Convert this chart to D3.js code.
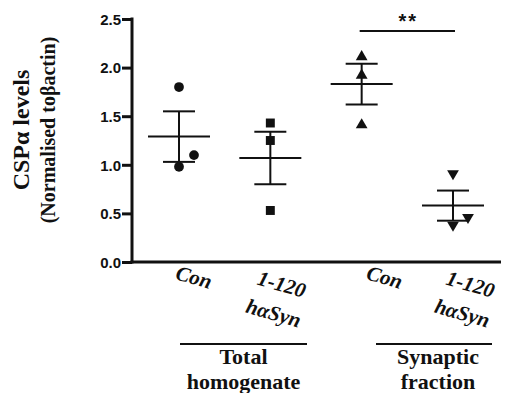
<!DOCTYPE html>
<html>
<head>
<meta charset="utf-8">
<script src="https://cdn.jsdelivr.net/npm/d3@7"></script>
<style>
  body { margin: 0; background: #fff; }
  svg { display: block; }
</style>
</head>
<body>
<svg width="505" height="393"></svg>
<script>
var groups = ['conTotal', 'synTotal', 'conSyn', 'synSyn'];
var xLabels = [['Con'], ['1-120', 'hαSyn'], ['Con'], ['1-120', 'hαSyn']];
var points = [
    [1.80, 1.10, 0.98],
    [1.43, 1.25, 0.53],
    [2.11, 1.92, 1.41],
    [0.91, 0.46, 0.38]
];
var jitter = [
    [0, 15, 0],
    [0, 0, 0],
    [0, 0, 0],
    [0, 15, 0]
];
var means = [1.29, 1.07, 1.83, 0.58];
var sems = [0.26, 0.27, 0.21, 0.155];
var symbols = ['circle', 'square', 'up', 'down'];
var yTicks = [0.0, 0.5, 1.0, 1.5, 2.0, 2.5];
var fractions = [['Total', 'homogenate'], ['Synaptic', 'fraction']];

var SANS = '"Liberation Sans"';
var SERIF = '"Liberation Serif"';

var svg = d3.select('svg');

var xScale = d3.scalePoint()
    .domain(groups)
    .range([179, 453]);

var yScale = d3.scaleLinear()
    .domain([0, 2.5])
    .range([262, 19]);

// axes
var yAxis = d3.axisLeft(yScale).tickValues(yTicks).tickFormat(d3.format('.1f')).tickSize(10).tickPadding(1);
var gy = svg.append('g')
    .attr('class', 'y axis')
    .attr('transform', 'translate(132,0)')
    .call(yAxis);
gy.attr('font-family', null).attr('font-size', null);
gy.select('.domain').remove();
gy.selectAll('line').attr('stroke', '#111').attr('stroke-width', 3);
gy.selectAll('text')
    .attr('dy', '0.35em')
    .attr('font-family', SANS)
    .attr('font-weight', 'bold')
    .attr('font-size', 15)
    .attr('fill', '#111');

svg.append('line')
    .attr('x1', 132).attr('x2', 132)
    .attr('y1', yScale(2.5) - 1.5).attr('y2', yScale(0) + 1.5)
    .attr('stroke', '#111').attr('stroke-width', 3);
svg.append('line')
    .attr('x1', 130.5).attr('x2', 501)
    .attr('y1', yScale(0)).attr('y2', yScale(0))
    .attr('stroke', '#111').attr('stroke-width', 3);

// mean +/- sem
var eb = svg.selectAll('.eb')
    .data(groups)
    .enter()
    .append('g')
    .attr('class', 'eb')
    .attr('stroke', '#111')
    .attr('stroke-width', 2);

eb.append('line')
    .attr('x1', function(d){ return xScale(d) - 31; })
    .attr('x2', function(d){ return xScale(d) + 31; })
    .attr('y1', function(d, i){ return yScale(means[i]); })
    .attr('y2', function(d, i){ return yScale(means[i]); });
eb.append('line')
    .attr('x1', function(d){ return xScale(d); })
    .attr('x2', function(d){ return xScale(d); })
    .attr('y1', function(d, i){ return yScale(means[i] + sems[i]); })
    .attr('y2', function(d, i){ return yScale(means[i] - sems[i]); });
[1, -1].forEach(function(s){
    eb.append('line')
        .attr('x1', function(d){ return xScale(d) - 16; })
        .attr('x2', function(d){ return xScale(d) + 16; })
        .attr('y1', function(d, i){ return yScale(means[i] + s * sems[i]); })
        .attr('y2', function(d, i){ return yScale(means[i] + s * sems[i]); });
});

// points
var symPath = {
    circle: d3.symbol().type(d3.symbolCircle).size(75)(),
    square: d3.symbol().type(d3.symbolSquare).size(80)(),
    up: d3.symbol().type(d3.symbolTriangle).size(60)(),
    down: d3.symbol().type(d3.symbolTriangle).size(60)()
};
groups.forEach(function(g, i){
    svg.selectAll('.pt' + i)
        .data(points[i])
        .enter()
        .append('path')
        .attr('class', 'pt' + i)
        .attr('d', symPath[symbols[i]])
        .attr('fill', '#111')
        .attr('transform', function(d, j){
            return 'translate(' + (xScale(g) + jitter[i][j]) + ',' + yScale(d) + ')' +
                (symbols[i] == 'down' ? 'rotate(180)' : '');
        });
});

// significance
svg.append('line')
    .attr('x1', xScale('conSyn') - 2).attr('x2', xScale('synSyn') + 2)
    .attr('y1', 31).attr('y2', 31)
    .attr('stroke', '#111').attr('stroke-width', 2);
svg.append('text')
    .attr('x', (xScale('conSyn') + xScale('synSyn')) / 2 + 1)
    .attr('y', 28)
    .attr('text-anchor', 'middle')
    .attr('font-family', SANS)
    .attr('font-weight', 'bold')
    .attr('font-size', 20)
    .attr('letter-spacing', 2)
    .attr('fill', '#111')
    .text('**');

// x labels
var xOff = [13, 9, 21, 15];
groups.forEach(function(g, i){
    var two = xLabels[i].length > 1;
    var t = svg.append('text')
        .attr('text-anchor', 'middle')
        .attr('font-family', SERIF)
        .attr('font-weight', 'bold')
        .attr('font-style', 'italic')
        .attr('font-size', 21)
        .attr('fill', '#111')
        .attr('transform', 'translate(' + (xScale(g) + xOff[i]) + ',' + (two ? 293 : 284) + ')rotate(16)');
    xLabels[i].forEach(function(s, k){
        t.append('tspan').attr('x', 0).attr('y', k * 30 - (two ? 2 : 0)).text(s);
    });
});

// fraction brackets
var fr = [[180, 307], [376, 492]];
fractions.forEach(function(f, i){
    svg.append('line')
        .attr('x1', fr[i][0]).attr('x2', fr[i][1])
        .attr('y1', 344).attr('y2', 344)
        .attr('stroke', '#111').attr('stroke-width', 2);
    var cx = (fr[i][0] + fr[i][1]) / 2 + (i == 1 ? 4 : 0);
    f.forEach(function(s, k){
        svg.append('text')
            .attr('x', cx)
            .attr('y', 364 + k * 25)
            .attr('text-anchor', 'middle')
            .attr('font-family', SERIF)
            .attr('font-weight', 'bold')
            .attr('font-size', 22)
            .attr('fill', '#111')
            .text(s);
    });
});

// y title
var yt = svg.append('text')
    .attr('text-anchor', 'middle')
    .attr('font-family', SERIF)
    .attr('font-weight', 'bold')
    .attr('fill', '#111')
    .attr('transform', 'translate(0,130)rotate(-90)');
yt.append('tspan').attr('x', 0).attr('y', 29).attr('font-size', 24).text('CSPα levels');
yt.append('tspan').attr('x', 0).attr('y', 55).attr('font-size', 20).text('(Normalised toβactin)');
</script>
</body>
</html>
